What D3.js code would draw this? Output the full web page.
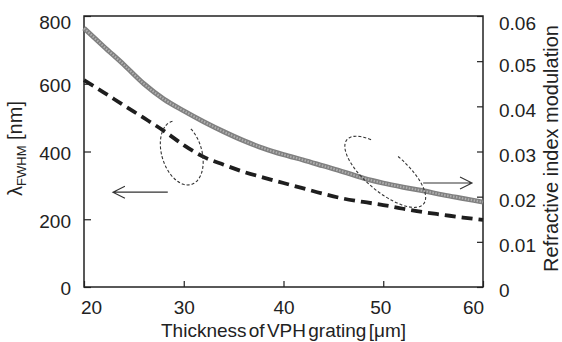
<!DOCTYPE html>
<meta charset="utf-8">
<script src="https://d3js.org/d3.v7.min.js"></script>
<div id="my_dataviz"></div>
<style>
body { margin: 0; background: #fff; }
text { font-family: "Liberation Sans", Arial, sans-serif; fill: #222; }
</style>
<script>

// thickness of VPH grating [um]
var thickness  = [20, 22, 24, 26, 28, 30, 32, 34, 36, 38, 40, 42, 44, 46, 48, 50, 52, 54, 56, 58, 60];
// lambda FWHM [nm] (dashed, left axis)
var fwhm       = [611, 574, 536, 499, 461, 419, 384, 361, 340, 323, 307, 291, 275, 261, 251, 242, 231, 221, 213, 205, 198];
// refractive index modulation (grey, right axis)
var modulation = [0.0573, 0.0532, 0.0492, 0.0450, 0.0416, 0.0390, 0.0366, 0.0344, 0.0324, 0.0307, 0.0293,
                  0.0281, 0.0268, 0.0255, 0.0241, 0.0230, 0.0221, 0.0213, 0.0204, 0.0196, 0.0188];

var xTicks     = [20, 30, 40, 50, 60];
var leftTicks  = [0, 200, 400, 600, 800];
var rightTicks = [0, 0.01, 0.02, 0.03, 0.04, 0.05, 0.06];

var margin = {top: 16, right: 79, bottom: 55, left: 84},
    width = 562 - margin.left - margin.right,
    height = 342 - margin.top - margin.bottom;

var svg = d3.select("#my_dataviz")
  .append("svg")
    .attr("width", 562)
    .attr("height", 342)
  .append("g")
    .attr("transform", "translate(" + margin.left + "," + margin.top + ")");

var x = d3.scaleLinear().domain([20, 60]).range([0, width]);
var yL = d3.scaleLinear().domain([0, 800]).range([height, 0]);
var yR = d3.scaleLinear().domain([0, 0.06]).range([height, 0]);

// axes (ticks inside the frame)
var gx = svg.append("g")
  .attr("transform", "translate(0," + height + ")")
  .call(d3.axisBottom(x).tickValues(xTicks).tickSize(-6).tickPadding(14));
gx.selectAll("text")
  .attr("dx", function(d, i) { return i == 0 ? 7 : (i == xTicks.length - 1 ? -10 : (i == 3 ? -3 : 0)); });

var gl = svg.append("g")
  .call(d3.axisLeft(yL).tickValues(leftTicks).tickSize(-7).tickPadding(13));
gl.selectAll("text")
  .attr("dy", function(d, i) { return i == leftTicks.length - 1 ? "0.68em" : "0.42em"; });

var gr = svg.append("g")
  .attr("transform", "translate(" + width + ",0)")
  .call(d3.axisRight(yR).tickValues(rightTicks).tickSize(-6).tickPadding(16)
    .tickFormat(function(d) { return d == 0 ? "0" : d3.format(".2f")(d); }));
gr.selectAll("text")
  .attr("dy", function(d, i) { return i == rightTicks.length - 1 ? "0.72em" : "0.52em"; });

svg.selectAll(".tick text").style("font-size", "19px").style("fill", "#222");
svg.selectAll(".tick line").attr("stroke", "#222").attr("stroke-width", 1.2);
svg.selectAll(".domain").remove();

// frame
svg.append("rect")
  .attr("width", width).attr("height", height)
  .attr("fill", "none").attr("stroke", "#222").attr("stroke-width", 1.5);

// refractive index modulation: textured grey line
var lineR = d3.line()
  .x(function(d, i) { return x(thickness[i]); })
  .y(function(d) { return yR(d); })
  .curve(d3.curveMonotoneX);

svg.append("path").datum(modulation)
  .attr("fill", "none").attr("stroke", "#808080").attr("stroke-width", 5)
  .attr("d", lineR);
svg.append("path").datum(modulation)
  .attr("fill", "none").attr("stroke", "#b0b0b0").attr("stroke-width", 2.2)
  .attr("stroke-dasharray", "1.5,1.5")
  .attr("d", lineR);

// lambda FWHM: thick dashed line
var lineL = d3.line()
  .x(function(d, i) { return x(thickness[i]); })
  .y(function(d) { return yL(d); })
  .curve(d3.curveMonotoneX);

svg.append("path").datum(fwhm)
  .attr("fill", "none").attr("stroke", "#1e1e1e").attr("stroke-width", 3.8)
  .attr("stroke-dasharray", "11,6")
  .attr("d", lineL);

// annotation ellipses (centre in data units, radii in px, open gap in degrees)
var ellipses = [
  {cx: 29.8, cy: 396, rx: 20, ry: 33, rot: -17, gapFrom: -89, gapTo: -38},
  {cx: 50.2, cy: 340, rx: 20, ry: 50, rot: -50, gapFrom: -37, gapTo: 0}
];

ellipses.forEach(function(e) {
  var c = [x(e.cx), yL(e.cy)], a = e.rot * Math.PI / 180, pts = [];
  for (var t = e.gapTo; t <= e.gapFrom + 360; t += 3) {
    var r = t * Math.PI / 180,
        lx = e.rx * Math.cos(r), ly = e.ry * Math.sin(r);
    pts.push([c[0] + lx * Math.cos(a) - ly * Math.sin(a),
              c[1] + lx * Math.sin(a) + ly * Math.cos(a)]);
  }
  svg.append("path")
    .attr("d", d3.line().curve(d3.curveCatmullRom)(pts))
    .attr("fill", "none").attr("stroke", "#333").attr("stroke-width", 1.1)
    .attr("stroke-dasharray", "3,2");
});

// arrows pointing to each axis
var arrows = [
  {x1: 28.4, x2: 22.9, y: 280},
  {x1: 54.0, x2: 58.9, y: 307}
];

arrows.forEach(function(a) {
  var x1 = x(a.x1), x2 = x(a.x2), yy = yL(a.y), dir = x2 > x1 ? -1 : 1;
  svg.append("path")
    .attr("d", "M" + x1 + "," + yy + "H" + x2 +
               "M" + (x2 + dir * 12) + "," + (yy - 6) + "L" + x2 + "," + yy + "L" + (x2 + dir * 12) + "," + (yy + 6))
    .attr("fill", "none").attr("stroke", "#333").attr("stroke-width", 1.1);
});

// axis titles
svg.append("text")
  .attr("x", width / 2).attr("y", height + 50)
  .attr("text-anchor", "middle")
  .style("font-size", "19px").style("word-spacing", "-3px")
  .text("Thickness of VPH grating [\u03bcm]");

var yt = svg.append("text")
  .attr("transform", "translate(" + (-62) + "," + (height / 2 - 3) + ") rotate(-90)")
  .attr("text-anchor", "middle")
  .style("font-size", "20px");
yt.append("tspan").text("\u03bb");
yt.append("tspan").attr("dy", 4).style("font-size", "13px").text("FWHM");
yt.append("tspan").attr("dy", -4).text(" [nm]");

svg.append("text")
  .attr("transform", "translate(" + (width + 75) + "," + (height / 2 - 3) + ") rotate(-90)")
  .attr("text-anchor", "middle")
  .style("font-size", "20px")
  .text("Refractive index modulation");

</script>
